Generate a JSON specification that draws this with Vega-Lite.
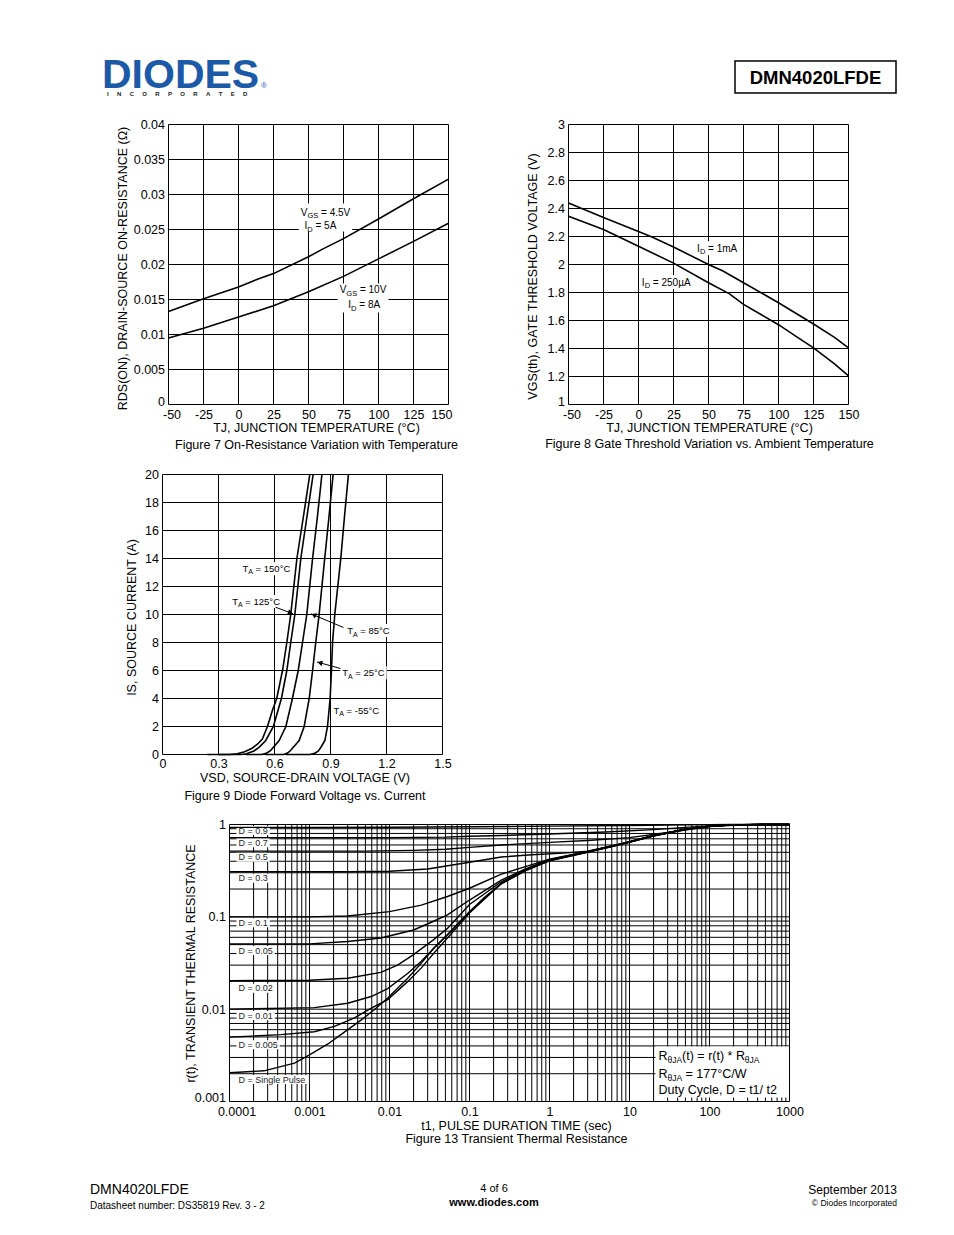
{
  "$schema": "https://vega.github.io/schema/vega-lite/v6.json",
  "width": 954,
  "height": 1235,
  "padding": 0,
  "autosize": {"type": "none"},
  "background": "white",
  "config": {
    "font": "Liberation Sans",
    "view": {"stroke": null},
    "axis": {
      "grid": false, "domain": false, "ticks": false,
      "labelFont": "Liberation Sans", "labelFontSize": 12.5, "labelColor": "#000",
      "labelOverlap": false, "labelFlush": false,
      "titleFont": "Liberation Sans", "titleFontSize": 12.5, "titleFontWeight": "normal", "titleColor": "#000"
    },
    "axisX": {"labelPadding": 3.5, "titlePadding": 1},
    "axisY": {"labelPadding": 4},
    "line": {"color": "#000", "strokeWidth": 1.6},
    "rule": {"color": "#000", "strokeWidth": 1},
    "text": {"color": "#000"}
  },
  "resolve": {"scale": {"x": "independent", "y": "independent"}, "axis": {"x": "independent", "y": "independent"}},
  "datasets": {
    "g7v": [{"x": -50, "y": 0, "y2": 0.04}, {"x": -25, "y": 0, "y2": 0.04}, {"x": 0, "y": 0, "y2": 0.04}, {"x": 25, "y": 0, "y2": 0.04}, {"x": 50, "y": 0, "y2": 0.04}, {"x": 75, "y": 0, "y2": 0.04}, {"x": 100, "y": 0, "y2": 0.04}, {"x": 125, "y": 0, "y2": 0.04}, {"x": 150, "y": 0, "y2": 0.04}],
    "g7h": [{"y": 0, "x": -50, "x2": 150}, {"y": 0.005, "x": -50, "x2": 150}, {"y": 0.01, "x": -50, "x2": 150}, {"y": 0.015, "x": -50, "x2": 150}, {"y": 0.02, "x": -50, "x2": 150}, {"y": 0.025, "x": -50, "x2": 150}, {"y": 0.03, "x": -50, "x2": 150}, {"y": 0.035, "x": -50, "x2": 150}, {"y": 0.04, "x": -50, "x2": 150}],
    "g8v": [{"x": -50, "y": 1, "y2": 3}, {"x": -25, "y": 1, "y2": 3}, {"x": 0, "y": 1, "y2": 3}, {"x": 25, "y": 1, "y2": 3}, {"x": 50, "y": 1, "y2": 3}, {"x": 75, "y": 1, "y2": 3}, {"x": 100, "y": 1, "y2": 3}, {"x": 125, "y": 1, "y2": 3}, {"x": 150, "y": 1, "y2": 3}],
    "g8h": [{"y": 1, "x": -50, "x2": 150}, {"y": 1.2, "x": -50, "x2": 150}, {"y": 1.4, "x": -50, "x2": 150}, {"y": 1.6, "x": -50, "x2": 150}, {"y": 1.8, "x": -50, "x2": 150}, {"y": 2, "x": -50, "x2": 150}, {"y": 2.2, "x": -50, "x2": 150}, {"y": 2.4, "x": -50, "x2": 150}, {"y": 2.6, "x": -50, "x2": 150}, {"y": 2.8, "x": -50, "x2": 150}, {"y": 3, "x": -50, "x2": 150}],
    "g9v": [{"x": 0, "y": 0, "y2": 20}, {"x": 0.3, "y": 0, "y2": 20}, {"x": 0.6, "y": 0, "y2": 20}, {"x": 0.9, "y": 0, "y2": 20}, {"x": 1.2, "y": 0, "y2": 20}, {"x": 1.5, "y": 0, "y2": 20}],
    "g9h": [{"y": 0, "x": 0, "x2": 1.5}, {"y": 2, "x": 0, "x2": 1.5}, {"y": 4, "x": 0, "x2": 1.5}, {"y": 6, "x": 0, "x2": 1.5}, {"y": 8, "x": 0, "x2": 1.5}, {"y": 10, "x": 0, "x2": 1.5}, {"y": 12, "x": 0, "x2": 1.5}, {"y": 14, "x": 0, "x2": 1.5}, {"y": 16, "x": 0, "x2": 1.5}, {"y": 18, "x": 0, "x2": 1.5}, {"y": 20, "x": 0, "x2": 1.5}],
    "g13v": [
      {"x":0.0001,"y":0.001,"y2":1},{"x":0.0002,"y":0.001,"y2":1},{"x":0.0003,"y":0.001,"y2":1},{"x":0.0004,"y":0.001,"y2":1},{"x":0.0005,"y":0.001,"y2":1},{"x":0.0006,"y":0.001,"y2":1},{"x":0.0007,"y":0.001,"y2":1},{"x":0.0008,"y":0.001,"y2":1},{"x":0.0009,"y":0.001,"y2":1},
      {"x":0.001,"y":0.001,"y2":1},{"x":0.002,"y":0.001,"y2":1},{"x":0.003,"y":0.001,"y2":1},{"x":0.004,"y":0.001,"y2":1},{"x":0.005,"y":0.001,"y2":1},{"x":0.006,"y":0.001,"y2":1},{"x":0.007,"y":0.001,"y2":1},{"x":0.008,"y":0.001,"y2":1},{"x":0.009,"y":0.001,"y2":1},
      {"x":0.01,"y":0.001,"y2":1},{"x":0.02,"y":0.001,"y2":1},{"x":0.03,"y":0.001,"y2":1},{"x":0.04,"y":0.001,"y2":1},{"x":0.05,"y":0.001,"y2":1},{"x":0.06,"y":0.001,"y2":1},{"x":0.07,"y":0.001,"y2":1},{"x":0.08,"y":0.001,"y2":1},{"x":0.09,"y":0.001,"y2":1},
      {"x":0.1,"y":0.001,"y2":1},{"x":0.2,"y":0.001,"y2":1},{"x":0.3,"y":0.001,"y2":1},{"x":0.4,"y":0.001,"y2":1},{"x":0.5,"y":0.001,"y2":1},{"x":0.6,"y":0.001,"y2":1},{"x":0.7,"y":0.001,"y2":1},{"x":0.8,"y":0.001,"y2":1},{"x":0.9,"y":0.001,"y2":1},
      {"x":1,"y":0.001,"y2":1},{"x":2,"y":0.001,"y2":1},{"x":3,"y":0.001,"y2":1},{"x":4,"y":0.001,"y2":1},{"x":5,"y":0.001,"y2":1},{"x":6,"y":0.001,"y2":1},{"x":7,"y":0.001,"y2":1},{"x":8,"y":0.001,"y2":1},{"x":9,"y":0.001,"y2":1},
      {"x":10,"y":0.001,"y2":1},{"x":20,"y":0.001,"y2":1},{"x":30,"y":0.001,"y2":1},{"x":40,"y":0.001,"y2":1},{"x":50,"y":0.001,"y2":1},{"x":60,"y":0.001,"y2":1},{"x":70,"y":0.001,"y2":1},{"x":80,"y":0.001,"y2":1},{"x":90,"y":0.001,"y2":1},
      {"x":100,"y":0.001,"y2":1},{"x":200,"y":0.001,"y2":1},{"x":300,"y":0.001,"y2":1},{"x":400,"y":0.001,"y2":1},{"x":500,"y":0.001,"y2":1},{"x":600,"y":0.001,"y2":1},{"x":700,"y":0.001,"y2":1},{"x":800,"y":0.001,"y2":1},{"x":900,"y":0.001,"y2":1},{"x":1000,"y":0.001,"y2":1}
    ],
    "g13h": [
      {"y":0.001,"x":0.0001,"x2":1000},{"y":0.002,"x":0.0001,"x2":1000},{"y":0.003,"x":0.0001,"x2":1000},{"y":0.004,"x":0.0001,"x2":1000},{"y":0.005,"x":0.0001,"x2":1000},{"y":0.006,"x":0.0001,"x2":1000},{"y":0.007,"x":0.0001,"x2":1000},{"y":0.008,"x":0.0001,"x2":1000},{"y":0.009,"x":0.0001,"x2":1000},
      {"y":0.01,"x":0.0001,"x2":1000},{"y":0.02,"x":0.0001,"x2":1000},{"y":0.03,"x":0.0001,"x2":1000},{"y":0.04,"x":0.0001,"x2":1000},{"y":0.05,"x":0.0001,"x2":1000},{"y":0.06,"x":0.0001,"x2":1000},{"y":0.07,"x":0.0001,"x2":1000},{"y":0.08,"x":0.0001,"x2":1000},{"y":0.09,"x":0.0001,"x2":1000},
      {"y":0.1,"x":0.0001,"x2":1000},{"y":0.2,"x":0.0001,"x2":1000},{"y":0.3,"x":0.0001,"x2":1000},{"y":0.4,"x":0.0001,"x2":1000},{"y":0.5,"x":0.0001,"x2":1000},{"y":0.6,"x":0.0001,"x2":1000},{"y":0.7,"x":0.0001,"x2":1000},{"y":0.8,"x":0.0001,"x2":1000},{"y":0.9,"x":0.0001,"x2":1000},
      {"y":1,"x":0.0001,"x2":1000}
    ],
    "f7": [
      {"s": "4.5V", "x": -50, "y": 0.0133}, {"s": "4.5V", "x": -25, "y": 0.0151}, {"s": "4.5V", "x": 0, "y": 0.0168},
      {"s": "4.5V", "x": 15, "y": 0.018}, {"s": "4.5V", "x": 25, "y": 0.0187}, {"s": "4.5V", "x": 50, "y": 0.0211},
      {"s": "4.5V", "x": 60, "y": 0.0222}, {"s": "4.5V", "x": 75, "y": 0.0237}, {"s": "4.5V", "x": 100, "y": 0.0265},
      {"s": "4.5V", "x": 125, "y": 0.0294}, {"s": "4.5V", "x": 150, "y": 0.0322},
      {"s": "10V", "x": -50, "y": 0.0095}, {"s": "10V", "x": -25, "y": 0.0109}, {"s": "10V", "x": 0, "y": 0.0125},
      {"s": "10V", "x": 25, "y": 0.0141}, {"s": "10V", "x": 50, "y": 0.0161}, {"s": "10V", "x": 75, "y": 0.0183},
      {"s": "10V", "x": 100, "y": 0.0208}, {"s": "10V", "x": 125, "y": 0.0233}, {"s": "10V", "x": 150, "y": 0.0259}
    ],
    "f7box": [
      {"x": 43.07, "x2": 81.21, "y": 0.02871, "y2": 0.02471},
      {"x": 70.86, "x2": 107.14, "y": 0.01729, "y2": 0.01314}
    ],
    "f7t": [
      {"x": 44.46, "y": 0.02696, "t": "V", "k": "m"}, {"x": 49.23, "y": 0.02696, "t": "GS", "k": "s"}, {"x": 58.96, "y": 0.02696, "t": "= 4.5V", "k": "m"},
      {"x": 47.14, "y": 0.02506, "t": "I", "k": "m"}, {"x": 49.13, "y": 0.02506, "t": "D", "k": "s"}, {"x": 54.99, "y": 0.02506, "t": "= 5A", "k": "m"},
      {"x": 72.25, "y": 0.01591, "t": "V", "k": "m"}, {"x": 77.01, "y": 0.01591, "t": "GS", "k": "s"}, {"x": 86.74, "y": 0.01591, "t": "= 10V", "k": "m"},
      {"x": 78.43, "y": 0.01377, "t": "I", "k": "m"}, {"x": 80.41, "y": 0.01377, "t": "D", "k": "s"}, {"x": 86.27, "y": 0.01377, "t": "= 8A", "k": "m"}
    ],
    "f8": [
      {"s": "1mA", "x": -50, "y": 2.44}, {"s": "1mA", "x": -25, "y": 2.335}, {"s": "1mA", "x": 0, "y": 2.235},
      {"s": "1mA", "x": 10, "y": 2.195}, {"s": "1mA", "x": 25, "y": 2.125}, {"s": "1mA", "x": 50, "y": 2.0},
      {"s": "1mA", "x": 60, "y": 1.955}, {"s": "1mA", "x": 75, "y": 1.87}, {"s": "1mA", "x": 100, "y": 1.727},
      {"s": "1mA", "x": 125, "y": 1.575}, {"s": "1mA", "x": 140, "y": 1.48}, {"s": "1mA", "x": 150, "y": 1.405},
      {"s": "250uA", "x": -50, "y": 2.345}, {"s": "250uA", "x": -25, "y": 2.25}, {"s": "250uA", "x": 0, "y": 2.13},
      {"s": "250uA", "x": 25, "y": 2.01}, {"s": "250uA", "x": 50, "y": 1.87}, {"s": "250uA", "x": 65, "y": 1.79},
      {"s": "250uA", "x": 75, "y": 1.715}, {"s": "250uA", "x": 100, "y": 1.57}, {"s": "250uA", "x": 112, "y": 1.49}, {"s": "250uA", "x": 125, "y": 1.405},
      {"s": "250uA", "x": 140, "y": 1.29}, {"s": "250uA", "x": 150, "y": 1.205}
    ],
    "f8box": [
      {"x": 40.43, "x2": 72.0, "y": 2.1664, "y2": 2.0664},
      {"x": 1.0, "x2": 38.57, "y": 1.9236, "y2": 1.8236}
    ],
    "f8t": [
      {"x": 41.86, "y": 2.0907, "t": "I", "k": "m"}, {"x": 43.84, "y": 2.0907, "t": "D", "k": "s"}, {"x": 49.7, "y": 2.0907, "t": "= 1mA", "k": "m"},
      {"x": 2.39, "y": 1.8479, "t": "I", "k": "m"}, {"x": 4.38, "y": 1.8479, "t": "D", "k": "s"}, {"x": 10.24, "y": 1.8479, "t": "= 250µA", "k": "m"}
    ],
    "f9": [
      {"s": "150", "x": 0.24, "y": 0}, {"s": "150", "x": 0.36, "y": 0}, {"s": "150", "x": 0.40, "y": 0.05}, {"s": "150", "x": 0.44, "y": 0.2},
      {"s": "150", "x": 0.48, "y": 0.45}, {"s": "150", "x": 0.51, "y": 0.75}, {"s": "150", "x": 0.535, "y": 1.1}, {"s": "150", "x": 0.562, "y": 2},
      {"s": "150", "x": 0.59, "y": 3.2}, {"s": "150", "x": 0.612, "y": 4}, {"s": "150", "x": 0.643, "y": 6}, {"s": "150", "x": 0.666, "y": 8},
      {"s": "150", "x": 0.687, "y": 10}, {"s": "150", "x": 0.72, "y": 14}, {"s": "150", "x": 0.755, "y": 17}, {"s": "150", "x": 0.789, "y": 20},
      {"s": "125", "x": 0.30, "y": 0}, {"s": "125", "x": 0.42, "y": 0}, {"s": "125", "x": 0.45, "y": 0.05}, {"s": "125", "x": 0.49, "y": 0.25},
      {"s": "125", "x": 0.52, "y": 0.55}, {"s": "125", "x": 0.553, "y": 1}, {"s": "125", "x": 0.594, "y": 2}, {"s": "125", "x": 0.637, "y": 4},
      {"s": "125", "x": 0.666, "y": 6}, {"s": "125", "x": 0.687, "y": 8}, {"s": "125", "x": 0.709, "y": 10}, {"s": "125", "x": 0.741, "y": 14},
      {"s": "125", "x": 0.774, "y": 17}, {"s": "125", "x": 0.807, "y": 20},
      {"s": "85", "x": 0.45, "y": 0}, {"s": "85", "x": 0.53, "y": 0}, {"s": "85", "x": 0.555, "y": 0.08}, {"s": "85", "x": 0.58, "y": 0.3},
      {"s": "85", "x": 0.625, "y": 1}, {"s": "85", "x": 0.661, "y": 2}, {"s": "85", "x": 0.696, "y": 4}, {"s": "85", "x": 0.727, "y": 6},
      {"s": "85", "x": 0.75, "y": 8}, {"s": "85", "x": 0.773, "y": 10}, {"s": "85", "x": 0.804, "y": 14}, {"s": "85", "x": 0.83, "y": 17},
      {"s": "85", "x": 0.854, "y": 20},
      {"s": "25", "x": 0.55, "y": 0}, {"s": "25", "x": 0.65, "y": 0}, {"s": "25", "x": 0.67, "y": 0.1}, {"s": "25", "x": 0.687, "y": 0.3},
      {"s": "25", "x": 0.732, "y": 1}, {"s": "25", "x": 0.759, "y": 2}, {"s": "25", "x": 0.786, "y": 4}, {"s": "25", "x": 0.804, "y": 6},
      {"s": "25", "x": 0.821, "y": 8}, {"s": "25", "x": 0.839, "y": 10}, {"s": "25", "x": 0.869, "y": 14}, {"s": "25", "x": 0.892, "y": 17},
      {"s": "25", "x": 0.914, "y": 20},
      {"s": "-55", "x": 0.66, "y": 0}, {"s": "-55", "x": 0.79, "y": 0}, {"s": "-55", "x": 0.815, "y": 0.08}, {"s": "-55", "x": 0.835, "y": 0.25},
      {"s": "-55", "x": 0.848, "y": 0.5}, {"s": "-55", "x": 0.87, "y": 1}, {"s": "-55", "x": 0.884, "y": 2}, {"s": "-55", "x": 0.898, "y": 4},
      {"s": "-55", "x": 0.905, "y": 6}, {"s": "-55", "x": 0.911, "y": 8}, {"s": "-55", "x": 0.923, "y": 10}, {"s": "-55", "x": 0.955, "y": 14},
      {"s": "-55", "x": 0.975, "y": 17}, {"s": "-55", "x": 0.996, "y": 20}
    ],
    "f9box": [
      {"x": 0.4179, "x2": 0.6964, "y": 13.73, "y2": 12.8},
      {"x": 0.3627, "x2": 0.6413, "y": 11.39, "y2": 10.46},
      {"x": 0.9804, "x2": 1.2277, "y": 9.32, "y2": 8.39},
      {"x": 0.952, "x2": 1.201, "y": 6.3, "y2": 5.37},
      {"x": 0.9054, "x2": 1.161, "y": 3.607, "y2": 2.679}
    ],
    "f9arrow": [
      {"x": 0.6054, "y": 10.52, "x2": 0.7002, "y2": 10.05},
      {"x": 0.9696, "y": 9.071, "x2": 0.7955, "y2": 10.05},
      {"x": 0.9536, "y": 6.143, "x2": 0.8277, "y2": 6.607}
    ],
    "f9head": [
      {"x": 0.6852, "y": 10.12, "k": "125"},
      {"x": 0.8105, "y": 9.964, "k": "85"},
      {"x": 0.8432, "y": 6.55, "k": "25"}
    ],
    "f9t": [
      {"x": 0.4286, "y": 13.04, "t": "T", "k": "m"}, {"x": 0.4596, "y": 13.04, "t": "A", "k": "s"}, {"x": 0.4988, "y": 13.04, "t": "= 150°C", "k": "m"},
      {"x": 0.3734, "y": 10.68, "t": "T", "k": "m"}, {"x": 0.4045, "y": 10.68, "t": "A", "k": "s"}, {"x": 0.4436, "y": 10.68, "t": "= 125°C", "k": "m"},
      {"x": 0.9895, "y": 8.607, "t": "T", "k": "m"}, {"x": 1.0205, "y": 8.607, "t": "A", "k": "s"}, {"x": 1.0597, "y": 8.607, "t": "= 85°C", "k": "m"},
      {"x": 0.9627, "y": 5.586, "t": "T", "k": "m"}, {"x": 0.9938, "y": 5.586, "t": "A", "k": "s"}, {"x": 1.0329, "y": 5.586, "t": "= 25°C", "k": "m"},
      {"x": 0.9161, "y": 2.893, "t": "T", "k": "m"}, {"x": 0.9471, "y": 2.893, "t": "A", "k": "s"}, {"x": 0.9863, "y": 2.893, "t": "= -55°C", "k": "m"}
    ],
    "f13": [
      {"s": "0.9", "x": 0.0001, "y": 0.93}, {"s": "0.9", "x": 0.001, "y": 0.93}, {"s": "0.9", "x": 0.01, "y": 0.935}, {"s": "0.9", "x": 0.1, "y": 0.945},
      {"s": "0.9", "x": 1, "y": 0.96}, {"s": "0.9", "x": 10, "y": 0.975}, {"s": "0.9", "x": 50, "y": 0.99}, {"s": "0.9", "x": 200, "y": 1}, {"s": "0.9", "x": 1000, "y": 1},
      {"s": "0.7", "x": 0.0001, "y": 0.72}, {"s": "0.7", "x": 0.01, "y": 0.72}, {"s": "0.7", "x": 0.05, "y": 0.73}, {"s": "0.7", "x": 0.1, "y": 0.745},
      {"s": "0.7", "x": 0.25, "y": 0.76}, {"s": "0.7", "x": 1, "y": 0.79}, {"s": "0.7", "x": 5, "y": 0.83}, {"s": "0.7", "x": 20, "y": 0.88},
      {"s": "0.7", "x": 50, "y": 0.93}, {"s": "0.7", "x": 150, "y": 0.98}, {"s": "0.7", "x": 500, "y": 1}, {"s": "0.7", "x": 1000, "y": 1},
      {"s": "0.5", "x": 0.0001, "y": 0.515}, {"s": "0.5", "x": 0.005, "y": 0.515}, {"s": "0.5", "x": 0.02, "y": 0.525}, {"s": "0.5", "x": 0.05, "y": 0.54},
      {"s": "0.5", "x": 0.1, "y": 0.565}, {"s": "0.5", "x": 0.25, "y": 0.6}, {"s": "0.5", "x": 1, "y": 0.64}, {"s": "0.5", "x": 3, "y": 0.67},
      {"s": "0.5", "x": 10, "y": 0.72}, {"s": "0.5", "x": 30, "y": 0.82}, {"s": "0.5", "x": 100, "y": 0.95}, {"s": "0.5", "x": 300, "y": 1}, {"s": "0.5", "x": 1000, "y": 1},
      {"s": "0.3", "x": 0.0001, "y": 0.308}, {"s": "0.3", "x": 0.003, "y": 0.308}, {"s": "0.3", "x": 0.01, "y": 0.312}, {"s": "0.3", "x": 0.03, "y": 0.33},
      {"s": "0.3", "x": 0.1, "y": 0.39}, {"s": "0.3", "x": 0.25, "y": 0.445}, {"s": "0.3", "x": 0.6, "y": 0.47}, {"s": "0.3", "x": 1.5, "y": 0.49},
      {"s": "0.3", "x": 3, "y": 0.515}, {"s": "0.3", "x": 8, "y": 0.62}, {"s": "0.3", "x": 20, "y": 0.76}, {"s": "0.3", "x": 50, "y": 0.89},
      {"s": "0.3", "x": 100, "y": 0.96}, {"s": "0.3", "x": 200, "y": 0.99}, {"s": "0.3", "x": 500, "y": 1}, {"s": "0.3", "x": 1000, "y": 1},
      {"s": "0.1", "x": 0.0001, "y": 0.1}, {"s": "0.1", "x": 0.001, "y": 0.1}, {"s": "0.1", "x": 0.003, "y": 0.102}, {"s": "0.1", "x": 0.01, "y": 0.114},
      {"s": "0.1", "x": 0.025, "y": 0.134}, {"s": "0.1", "x": 0.053, "y": 0.166}, {"s": "0.1", "x": 0.1, "y": 0.204}, {"s": "0.1", "x": 0.25, "y": 0.29},
      {"s": "0.1", "x": 0.5, "y": 0.35}, {"s": "0.1", "x": 1, "y": 0.42}, {"s": "0.1", "x": 3, "y": 0.51}, {"s": "0.1", "x": 8, "y": 0.62},
      {"s": "0.1", "x": 20, "y": 0.76}, {"s": "0.1", "x": 50, "y": 0.89}, {"s": "0.1", "x": 100, "y": 0.96}, {"s": "0.1", "x": 200, "y": 0.99},
      {"s": "0.1", "x": 500, "y": 1}, {"s": "0.1", "x": 1000, "y": 1},
      {"s": "0.05", "x": 0.0001, "y": 0.0508}, {"s": "0.05", "x": 0.001, "y": 0.051}, {"s": "0.05", "x": 0.003, "y": 0.054}, {"s": "0.05", "x": 0.0078, "y": 0.059},
      {"s": "0.05", "x": 0.02, "y": 0.072}, {"s": "0.05", "x": 0.035, "y": 0.089}, {"s": "0.05", "x": 0.053, "y": 0.105}, {"s": "0.05", "x": 0.1, "y": 0.152},
      {"s": "0.05", "x": 0.25, "y": 0.25}, {"s": "0.05", "x": 0.5, "y": 0.33}, {"s": "0.05", "x": 1, "y": 0.415}, {"s": "0.05", "x": 3, "y": 0.508},
      {"s": "0.05", "x": 8, "y": 0.618}, {"s": "0.05", "x": 20, "y": 0.758}, {"s": "0.05", "x": 50, "y": 0.888}, {"s": "0.05", "x": 100, "y": 0.958},
      {"s": "0.05", "x": 200, "y": 0.99}, {"s": "0.05", "x": 500, "y": 1}, {"s": "0.05", "x": 1000, "y": 1},
      {"s": "0.02", "x": 0.0001, "y": 0.0204}, {"s": "0.02", "x": 0.001, "y": 0.0206}, {"s": "0.02", "x": 0.003, "y": 0.0216}, {"s": "0.02", "x": 0.0078, "y": 0.025},
      {"s": "0.02", "x": 0.0126, "y": 0.03}, {"s": "0.02", "x": 0.02, "y": 0.039}, {"s": "0.02", "x": 0.035, "y": 0.056}, {"s": "0.02", "x": 0.053, "y": 0.075},
      {"s": "0.02", "x": 0.1, "y": 0.136}, {"s": "0.02", "x": 0.25, "y": 0.24}, {"s": "0.02", "x": 0.5, "y": 0.325}, {"s": "0.02", "x": 1, "y": 0.412},
      {"s": "0.02", "x": 3, "y": 0.506}, {"s": "0.02", "x": 8, "y": 0.616}, {"s": "0.02", "x": 20, "y": 0.756}, {"s": "0.02", "x": 50, "y": 0.886},
      {"s": "0.02", "x": 100, "y": 0.957}, {"s": "0.02", "x": 200, "y": 0.99}, {"s": "0.02", "x": 500, "y": 1}, {"s": "0.02", "x": 1000, "y": 1},
      {"s": "0.01", "x": 0.0001, "y": 0.01}, {"s": "0.01", "x": 0.00115, "y": 0.0104}, {"s": "0.01", "x": 0.003, "y": 0.0116}, {"s": "0.01", "x": 0.0059, "y": 0.0137},
      {"s": "0.01", "x": 0.0095, "y": 0.0167}, {"s": "0.01", "x": 0.017, "y": 0.0245}, {"s": "0.01", "x": 0.025, "y": 0.033}, {"s": "0.01", "x": 0.036, "y": 0.046},
      {"s": "0.01", "x": 0.053, "y": 0.064}, {"s": "0.01", "x": 0.1, "y": 0.114}, {"s": "0.01", "x": 0.25, "y": 0.23}, {"s": "0.01", "x": 0.5, "y": 0.32},
      {"s": "0.01", "x": 1, "y": 0.41}, {"s": "0.01", "x": 3, "y": 0.505}, {"s": "0.01", "x": 8, "y": 0.615}, {"s": "0.01", "x": 20, "y": 0.755},
      {"s": "0.01", "x": 50, "y": 0.885}, {"s": "0.01", "x": 100, "y": 0.956}, {"s": "0.01", "x": 200, "y": 0.99}, {"s": "0.01", "x": 500, "y": 1}, {"s": "0.01", "x": 1000, "y": 1},
      {"s": "0.005", "x": 0.0001, "y": 0.00498}, {"s": "0.005", "x": 0.00044, "y": 0.0053}, {"s": "0.005", "x": 0.00115, "y": 0.0057}, {"s": "0.005", "x": 0.00205, "y": 0.0065},
      {"s": "0.005", "x": 0.0036, "y": 0.008}, {"s": "0.005", "x": 0.006, "y": 0.0103}, {"s": "0.005", "x": 0.0095, "y": 0.0127}, {"s": "0.005", "x": 0.017, "y": 0.02},
      {"s": "0.005", "x": 0.025, "y": 0.028}, {"s": "0.005", "x": 0.036, "y": 0.0405}, {"s": "0.005", "x": 0.053, "y": 0.059}, {"s": "0.005", "x": 0.1, "y": 0.11},
      {"s": "0.005", "x": 0.25, "y": 0.23}, {"s": "0.005", "x": 0.5, "y": 0.318}, {"s": "0.005", "x": 1, "y": 0.408}, {"s": "0.005", "x": 3, "y": 0.503},
      {"s": "0.005", "x": 8, "y": 0.613}, {"s": "0.005", "x": 20, "y": 0.753}, {"s": "0.005", "x": 50, "y": 0.884}, {"s": "0.005", "x": 100, "y": 0.955},
      {"s": "0.005", "x": 200, "y": 0.99}, {"s": "0.005", "x": 500, "y": 1}, {"s": "0.005", "x": 1000, "y": 1},
      {"s": "single", "x": 0.0001, "y": 0.00205}, {"s": "single", "x": 0.00027, "y": 0.00215}, {"s": "single", "x": 0.00065, "y": 0.0026}, {"s": "single", "x": 0.001, "y": 0.0032},
      {"s": "single", "x": 0.0017, "y": 0.0042}, {"s": "single", "x": 0.0027, "y": 0.0056}, {"s": "single", "x": 0.0044, "y": 0.0076}, {"s": "single", "x": 0.0065, "y": 0.0099},
      {"s": "single", "x": 0.0095, "y": 0.0132}, {"s": "single", "x": 0.017, "y": 0.0218}, {"s": "single", "x": 0.025, "y": 0.0315}, {"s": "single", "x": 0.036, "y": 0.046},
      {"s": "single", "x": 0.053, "y": 0.064}, {"s": "single", "x": 0.1, "y": 0.112}, {"s": "single", "x": 0.15, "y": 0.16}, {"s": "single", "x": 0.25, "y": 0.228},
      {"s": "single", "x": 0.5, "y": 0.315}, {"s": "single", "x": 1, "y": 0.405}, {"s": "single", "x": 3, "y": 0.5}, {"s": "single", "x": 8, "y": 0.61},
      {"s": "single", "x": 20, "y": 0.75}, {"s": "single", "x": 50, "y": 0.883}, {"s": "single", "x": 100, "y": 0.955}, {"s": "single", "x": 200, "y": 0.99},
      {"s": "single", "x": 500, "y": 1}, {"s": "single", "x": 1000, "y": 1}
    ],
    "f13box": [
      {"x": 0.00012235, "x2": 0.000319, "y": 0.9633, "y2": 0.7695},
      {"x": 0.00012235, "x2": 0.000319, "y": 0.7088, "y2": 0.5663},
      {"x": 0.00012235, "x2": 0.000319, "y": 0.4951, "y2": 0.3956},
      {"x": 0.00012235, "x2": 0.000319, "y": 0.2932, "y2": 0.2343},
      {"x": 0.00012235, "x2": 0.000319, "y": 0.09641, "y2": 0.07702},
      {"x": 0.00012235, "x2": 0.000368, "y": 0.04831, "y2": 0.03861},
      {"x": 0.00012235, "x2": 0.000368, "y": 0.01887, "y2": 0.01508},
      {"x": 0.00012235, "x2": 0.000368, "y": 0.009552, "y2": 0.007631},
      {"x": 0.00012235, "x2": 0.000425, "y": 0.004601, "y2": 0.003675},
      {"x": 0.00012235, "x2": 0.000989, "y": 0.001936, "y2": 0.001547},
      {"x": 21.13, "x2": 985.7, "y": 0.003942, "y2": 0.001105}
    ],
    "f13t": [
      {"x": 0.0001296, "y": 0.795, "t": "D = 0.9", "k": "d"},
      {"x": 0.0001296, "y": 0.585, "t": "D = 0.7", "k": "d"},
      {"x": 0.0001296, "y": 0.4086, "t": "D = 0.5", "k": "d"},
      {"x": 0.0001296, "y": 0.2419, "t": "D = 0.3", "k": "d"},
      {"x": 0.0001296, "y": 0.07957, "t": "D = 0.1", "k": "d"},
      {"x": 0.0001296, "y": 0.03988, "t": "D = 0.05", "k": "d"},
      {"x": 0.0001296, "y": 0.01557, "t": "D = 0.02", "k": "d"},
      {"x": 0.0001296, "y": 0.007883, "t": "D = 0.01", "k": "d"},
      {"x": 0.0001296, "y": 0.003797, "t": "D = 0.005", "k": "d"},
      {"x": 0.0001296, "y": 0.001598, "t": "D = Single Pulse", "k": "d"},
      {"x": 23.04, "y": 0.002815, "t": "R", "k": "m"}, {"x": 29.85, "y": 0.002815, "t": "θJA", "k": "s"},
      {"x": 45.44, "y": 0.002815, "t": "(t) = r(t) * R", "k": "m"}, {"x": 275.4, "y": 0.002815, "t": "θJA", "k": "s"},
      {"x": 23.04, "y": 0.001796, "t": "R", "k": "m"}, {"x": 29.85, "y": 0.001796, "t": "θJA", "k": "s"},
      {"x": 50.25, "y": 0.001796, "t": "= 177°C/W", "k": "m"},
      {"x": 23.04, "y": 0.001206, "t": "Duty Cycle, D = t1/ t2", "k": "m"}
    ]
  },
  "layer": [
    {
      "encoding": {
        "x": {"field": "x", "type": "quantitative", "scale": {"domain": [0, 954], "range": [0, 954], "nice": false, "zero": false}, "axis": null},
        "y": {"field": "y", "type": "quantitative", "scale": {"domain": [0, 1235], "range": [0, 1235], "nice": false, "zero": false}, "axis": null}
      },
      "layer": [
        {"data": {"values": [{"x": 735, "x2": 896, "y": 61, "y2": 93}]}, "mark": {"type": "rect", "fillOpacity": 0, "stroke": "#000", "strokeWidth": 1.5}, "encoding": {"x2": {"field": "x2"}, "y2": {"field": "y2"}}},
        {"data": {"values": [{"x": 815.5, "y": 84.3, "t": "DMN4020LFDE"}]}, "mark": {"type": "text", "align": "center", "baseline": "alphabetic", "fontSize": 18.5, "fontWeight": "bold"}, "encoding": {"text": {"field": "t"}}},
        {"data": {"values": [{"x": 102, "y": 87.5, "t": "DIODES"}]}, "mark": {"type": "text", "align": "left", "baseline": "alphabetic", "fontSize": 41, "fontWeight": "bold", "fill": "#1c5aa8"}, "encoding": {"text": {"field": "t"}}},
        {"data": {"values": [{"x": 107, "y": 95.5, "t": "I\u00a0\u00a0\u00a0\u00a0\u00a0N\u00a0\u00a0\u00a0\u00a0\u00a0C\u00a0\u00a0\u00a0\u00a0\u00a0O\u00a0\u00a0\u00a0\u00a0\u00a0R\u00a0\u00a0\u00a0\u00a0\u00a0P\u00a0\u00a0\u00a0\u00a0\u00a0O\u00a0\u00a0\u00a0\u00a0\u00a0R\u00a0\u00a0\u00a0\u00a0\u00a0A\u00a0\u00a0\u00a0\u00a0\u00a0T\u00a0\u00a0\u00a0\u00a0\u00a0E\u00a0\u00a0\u00a0\u00a0\u00a0D"}]}, "mark": {"type": "text", "align": "left", "baseline": "alphabetic", "fontSize": 6, "fontWeight": "bold", "fill": "#222"}, "encoding": {"text": {"field": "t"}}},
        {"data": {"values": [{"x": 261, "y": 88, "t": "®"}]}, "mark": {"type": "text", "align": "left", "baseline": "alphabetic", "fontSize": 8, "fill": "#1c5aa8"}, "encoding": {"text": {"field": "t"}}},
        {"data": {"values": [{"x": 90, "y": 1193.5, "t": "DMN4020LFDE"}]}, "mark": {"type": "text", "align": "left", "baseline": "alphabetic", "fontSize": 14}, "encoding": {"text": {"field": "t"}}},
        {"data": {"values": [{"x": 90, "y": 1209, "t": "Datasheet number: DS35819 Rev. 3 - 2"}]}, "mark": {"type": "text", "align": "left", "baseline": "alphabetic", "fontSize": 10}, "encoding": {"text": {"field": "t"}}},
        {"data": {"values": [{"x": 494, "y": 1192, "t": "4 of 6"}]}, "mark": {"type": "text", "align": "center", "baseline": "alphabetic", "fontSize": 11}, "encoding": {"text": {"field": "t"}}},
        {"data": {"values": [{"x": 494, "y": 1206, "t": "www.diodes.com"}]}, "mark": {"type": "text", "align": "center", "baseline": "alphabetic", "fontSize": 11, "fontWeight": "bold"}, "encoding": {"text": {"field": "t"}}},
        {"data": {"values": [{"x": 897, "y": 1193.5, "t": "September 2013"}]}, "mark": {"type": "text", "align": "right", "baseline": "alphabetic", "fontSize": 12}, "encoding": {"text": {"field": "t"}}},
        {"data": {"values": [{"x": 897, "y": 1205.5, "t": "© Diodes Incorporated"}]}, "mark": {"type": "text", "align": "right", "baseline": "alphabetic", "fontSize": 8.5}, "encoding": {"text": {"field": "t"}}}
      ]
    },
    {
      "encoding": {
        "x": {"field": "x", "type": "quantitative", "scale": {"domain": [-50, 150], "range": [168.5, 448.5], "nice": false, "zero": false},
          "axis": {"orient": "bottom", "offset": -830.5, "values": [-50, -25, 0, 25, 50, 75, 100, 125, 150], "labelExpr": "datum.value + ''",
            "labelOffset": {"condition": [{"test": "datum.value == 150", "value": -7}, {"test": "datum.value == -50", "value": 3}], "value": 0},
            "title": ["TJ, JUNCTION TEMPERATURE (°C)", "Figure 7 On-Resistance Variation with Temperature"], "titleX": 316, "titleLineHeight": 17}},
        "y": {"field": "y", "type": "quantitative", "scale": {"domain": [0, 0.04], "range": [404.5, 124.5], "nice": false, "zero": false},
          "axis": {"orient": "left", "offset": -168.5, "values": [0, 0.005, 0.01, 0.015, 0.02, 0.025, 0.03, 0.035, 0.04], "format": "~g",
            "labelOffset": {"condition": {"test": "datum.value == 0", "value": -3}, "value": 0},
            "title": "RDS(ON), DRAIN-SOURCE ON-RESISTANCE (Ω)", "titlePadding": 4, "titleY": 268}}
      },
      "layer": [
        {"data": {"name": "g7v"}, "mark": "rule", "encoding": {"y2": {"field": "y2"}}},
        {"data": {"name": "g7h"}, "mark": "rule", "encoding": {"x2": {"field": "x2"}}},
        {"data": {"name": "f7box"}, "mark": {"type": "rect", "fill": "#fff"}, "encoding": {"x2": {"field": "x2"}, "y2": {"field": "y2"}}},
        {"data": {"name": "f7"}, "mark": {"type": "line"}, "encoding": {"detail": {"field": "s"}}},
        {"data": {"name": "f7t"}, "transform": [{"filter": "datum.k == 'm'"}], "mark": {"type": "text", "align": "left", "baseline": "alphabetic", "fontSize": 10}, "encoding": {"text": {"field": "t"}}},
        {"data": {"name": "f7t"}, "transform": [{"filter": "datum.k == 's'"}], "mark": {"type": "text", "align": "left", "baseline": "alphabetic", "fontSize": 7.5, "dy": 2.5}, "encoding": {"text": {"field": "t"}}}
      ]
    },
    {
      "encoding": {
        "x": {"field": "x", "type": "quantitative", "scale": {"domain": [-50, 150], "range": [568.5, 848.5], "nice": false, "zero": false},
          "axis": {"orient": "bottom", "offset": -830.5, "values": [-50, -25, 0, 25, 50, 75, 100, 125, 150], "labelExpr": "datum.value + ''",
            "labelOffset": {"condition": {"test": "datum.value == -50", "value": 3}, "value": 0},
            "title": ["TJ, JUNCTION TEMPERATURE (°C)", "Figure 8 Gate Threshold Variation vs. Ambient Temperature"], "titleX": 709, "titleLineHeight": 16}},
        "y": {"field": "y", "type": "quantitative", "scale": {"domain": [1, 3], "range": [404.5, 124.5], "nice": false, "zero": false},
          "axis": {"orient": "left", "offset": -568.5, "values": [1, 1.2, 1.4, 1.6, 1.8, 2, 2.2, 2.4, 2.6, 2.8, 3], "format": "~g",
            "labelOffset": {"condition": {"test": "datum.value == 1", "value": -3}, "value": 0},
            "title": "VGS(th), GATE THRESHOLD VOLTAGE (V)", "titlePadding": 8, "titleY": 276}}
      },
      "layer": [
        {"data": {"name": "g8v"}, "mark": "rule", "encoding": {"y2": {"field": "y2"}}},
        {"data": {"name": "g8h"}, "mark": "rule", "encoding": {"x2": {"field": "x2"}}},
        {"data": {"name": "f8box"}, "mark": {"type": "rect", "fill": "#fff"}, "encoding": {"x2": {"field": "x2"}, "y2": {"field": "y2"}}},
        {"data": {"name": "f8"}, "mark": {"type": "line"}, "encoding": {"detail": {"field": "s"}}},
        {"data": {"name": "f8t"}, "transform": [{"filter": "datum.k == 'm'"}], "mark": {"type": "text", "align": "left", "baseline": "alphabetic", "fontSize": 10}, "encoding": {"text": {"field": "t"}}},
        {"data": {"name": "f8t"}, "transform": [{"filter": "datum.k == 's'"}], "mark": {"type": "text", "align": "left", "baseline": "alphabetic", "fontSize": 7.5, "dy": 2.5}, "encoding": {"text": {"field": "t"}}}
      ]
    },
    {
      "encoding": {
        "x": {"field": "x", "type": "quantitative", "scale": {"domain": [0, 1.5], "range": [162.5, 442.5], "nice": false, "zero": false},
          "axis": {"orient": "bottom", "offset": -480.5, "values": [0, 0.3, 0.6, 0.9, 1.2, 1.5], "format": "~g", "labelPadding": 3, "title": ["VSD, SOURCE-DRAIN VOLTAGE (V)", "Figure 9 Diode Forward Voltage vs. Current"], "titleX": 304.5, "titleLineHeight": 18}},
        "y": {"field": "y", "type": "quantitative", "scale": {"domain": [0, 20], "range": [754.5, 474.5], "nice": false, "zero": false},
          "axis": {"orient": "left", "offset": -162.5, "values": [0, 2, 4, 6, 8, 10, 12, 14, 16, 18, 20], "title": "IS, SOURCE CURRENT (A)", "titlePadding": 6, "titleY": 617}}
      },
      "layer": [
        {"data": {"name": "g9v"}, "mark": "rule", "encoding": {"y2": {"field": "y2"}}},
        {"data": {"name": "g9h"}, "mark": "rule", "encoding": {"x2": {"field": "x2"}}},
        {"data": {"name": "f9box"}, "mark": {"type": "rect", "fill": "#fff"}, "encoding": {"x2": {"field": "x2"}, "y2": {"field": "y2"}}},
        {"data": {"name": "f9"}, "mark": {"type": "line"}, "encoding": {"detail": {"field": "s"}}},
        {"data": {"name": "f9arrow"}, "mark": {"type": "rule", "strokeWidth": 1}, "encoding": {"x2": {"field": "x2"}, "y2": {"field": "y2"}}},
        {"data": {"name": "f9head"}, "transform": [{"filter": "datum.k == '125'"}], "mark": {"type": "point", "shape": "triangle-up", "filled": true, "color": "#000", "opacity": 1, "size": 32, "angle": 110}},
        {"data": {"name": "f9head"}, "transform": [{"filter": "datum.k == '85'"}], "mark": {"type": "point", "shape": "triangle-up", "filled": true, "color": "#000", "opacity": 1, "size": 32, "angle": 293}},
        {"data": {"name": "f9head"}, "transform": [{"filter": "datum.k == '25'"}], "mark": {"type": "point", "shape": "triangle-up", "filled": true, "color": "#000", "opacity": 1, "size": 32, "angle": 286}},
        {"data": {"name": "f9t"}, "transform": [{"filter": "datum.k == 'm'"}], "mark": {"type": "text", "align": "left", "baseline": "alphabetic", "fontSize": 9.5}, "encoding": {"text": {"field": "t"}}},
        {"data": {"name": "f9t"}, "transform": [{"filter": "datum.k == 's'"}], "mark": {"type": "text", "align": "left", "baseline": "alphabetic", "fontSize": 7, "dy": 2.5}, "encoding": {"text": {"field": "t"}}}
      ]
    },
    {
      "encoding": {
        "x": {"field": "x", "type": "quantitative", "scale": {"type": "log", "domain": [0.0001, 1000], "range": [229.5, 789.5], "nice": false},
          "axis": {"orient": "bottom", "offset": -133.5, "values": [0.0001, 0.001, 0.01, 0.1, 1, 10, 100, 1000], "format": "~g", "labelPadding": 4,
            "labelOffset": {"condition": {"test": "datum.value == 0.0001", "value": 7}, "value": 0},
            "title": ["t1, PULSE DURATION TIME (sec)", "Figure 13 Transient Thermal Resistance"], "titleX": 516, "titleLineHeight": 13}},
        "y": {"field": "y", "type": "quantitative", "scale": {"type": "log", "domain": [0.001, 1], "range": [1101.5, 824.5], "nice": false},
          "axis": {"orient": "left", "offset": -229.5, "values": [0.001, 0.01, 0.1, 1], "format": "~g",
            "labelBaseline": {"condition": {"test": "datum.value == 0.001", "value": "alphabetic"}, "value": "middle"},
            "title": "r(t), TRANSIENT THERMAL RESISTANCE", "titlePadding": -3}}
      },
      "layer": [
        {"data": {"name": "g13v"}, "mark": "rule", "encoding": {"y2": {"field": "y2"}}},
        {"data": {"name": "g13h"}, "mark": "rule", "encoding": {"x2": {"field": "x2"}}},
        {"data": {"name": "f13box"}, "mark": {"type": "rect", "fill": "#fff"}, "encoding": {"x2": {"field": "x2"}, "y2": {"field": "y2"}}},
        {"data": {"name": "f13"}, "mark": {"type": "line", "strokeWidth": 1.4}, "encoding": {"detail": {"field": "s"}}},
        {"data": {"name": "f13t"}, "transform": [{"filter": "datum.k == 'd'"}], "mark": {"type": "text", "align": "left", "baseline": "alphabetic", "fontSize": 9, "fill": "#222"}, "encoding": {"text": {"field": "t"}}},
        {"data": {"name": "f13t"}, "transform": [{"filter": "datum.k == 'm'"}], "mark": {"type": "text", "align": "left", "baseline": "alphabetic", "fontSize": 12.5}, "encoding": {"text": {"field": "t"}}},
        {"data": {"name": "f13t"}, "transform": [{"filter": "datum.k == 's'"}], "mark": {"type": "text", "align": "left", "baseline": "alphabetic", "fontSize": 8.5, "dy": 3}, "encoding": {"text": {"field": "t"}}}
      ]
    }
  ]
}
